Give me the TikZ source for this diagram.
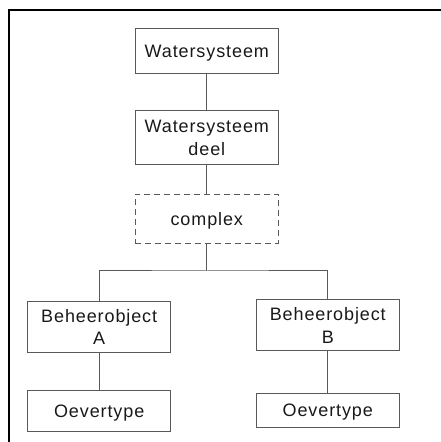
\documentclass[tikz,border=0pt]{standalone}
\usepackage{fontspec}
\setmainfont[LetterSpace=5]{Liberation Sans}
\begin{document}
\begin{tikzpicture}[x=1pt,y=1pt,
  box/.style={draw=black!65, line width=1pt, inner sep=0pt, minimum width=143pt, align=center, text=black!90,
    font=\fontsize{18}{22.5}\selectfont},
  oneline/.style={text depth=0pt},
  conn/.style={draw=black!65, line width=1pt}]
\useasboundingbox (0,0) rectangle (441,442);
\draw[line width=2pt] (9,0) -- (9,432) -- (441,432);
\node[box, oneline, minimum height=45.6pt] (ws) at (206.8,391) {Watersysteem};
\node[box, minimum height=54pt] (wsd) at (206.8,304) {Watersysteem\\deel};
\node[box, oneline, minimum height=49pt, dashed, dash pattern=on 6pt off 4pt] (cx) at (206.8,223.2) {complex};
\node[box, minimum height=51pt] (A) at (99.2,114.8) {Beheerobject\\A};
\node[box, minimum height=51pt] (B) at (327.8,116.5) {Beheerobject\\B};
\node[box, oneline, minimum height=40.7pt] (oa) at (99.2,30.7) {Oevertype};
\node[box, oneline, minimum height=34.4pt] (ob) at (327.8,31.5) {Oevertype};
\coordinate (bus) at (206.8,171);
\draw[conn] (ws) -- (wsd);
\draw[conn] (wsd) -- (cx);
\draw[conn] (cx) -- (bus);
\draw[conn] (A.north) |- (bus) -| (B.north);
\draw[conn] (A) -- (oa);
\draw[conn] (B) -- (ob);
\end{tikzpicture}
\end{document}
